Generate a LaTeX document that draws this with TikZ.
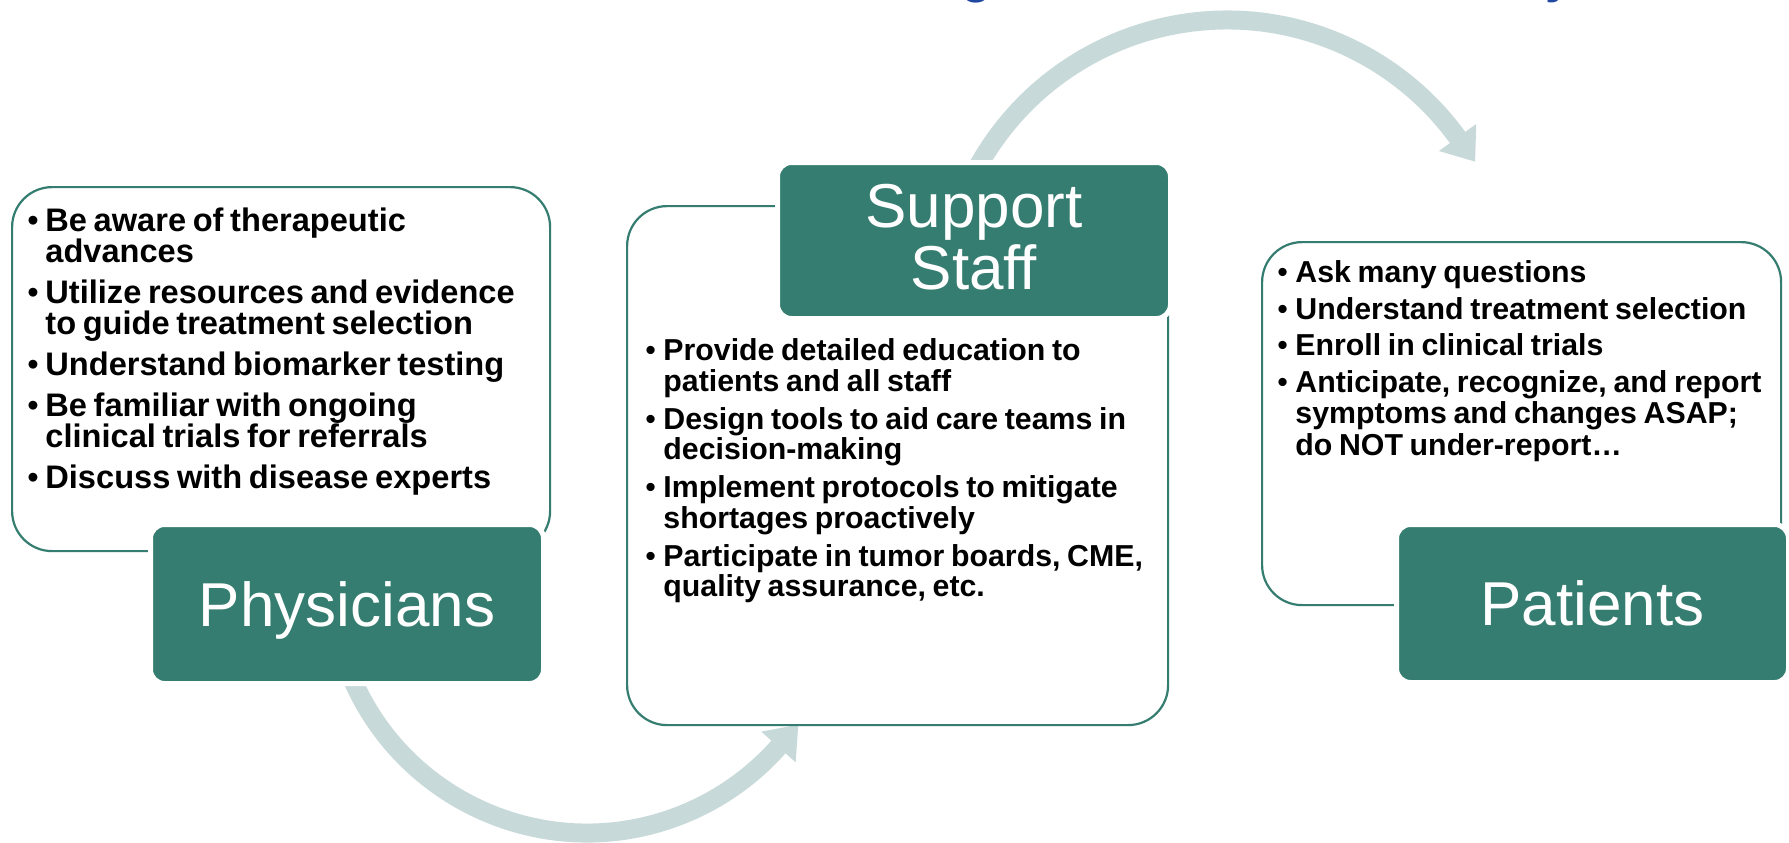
\documentclass[tikz,border=0pt]{standalone}
\usepackage{fontspec}
\setmainfont{Liberation Sans}
\usetikzlibrary{arrows.meta}
\definecolor{boxgreen}{RGB}{53,125,112}
\definecolor{arrowgrey}{RGB}{200,217,217}
\definecolor{titleblue}{RGB}{33,72,160}
\newcommand\bitem[1]{\par\noindent\hangindent=9pt\hangafter=1\hbox to 9pt{\mdseries\textbullet\hfil}#1\par}
\newcommand\rolefont{\fontsize{31pt}{31pt}\selectfont}
\begin{document}
\begin{tikzpicture}[x=0.5pt,y=-0.5pt,
  contentbox/.style={draw=boxgreen, line width=1.1pt, fill=white, rounded corners=20pt, inner sep=0pt, anchor=north west},
  rolebox/.style={fill=boxgreen, draw=white, line width=2.5pt, rounded corners=7pt, inner sep=0pt, text=white, font=\rolefont},
  cycarrow/.style={draw=arrowgrey, line width=9.5pt, -{Triangle[width=22pt,length=15pt]}},
  listtext/.style={anchor=north west, inner sep=0pt, text width=262pt}]
\useasboundingbox[fill=white] (0,0) rectangle (1789,842);
% cycle arrows
\coordinate (c1) at (587,577);
\coordinate (c2) at (1227,305);
\path (c1) ++(157.2:256) coordinate (a1s);
\path (c2) ++(-151.7:285) coordinate (a2s);
\draw[cycarrow] (a1s) arc[start angle=157.2, end angle=41.6, radius=256] -- ++(20,-22.4) coordinate (a1t);
\draw[cycarrow] (a2s) arc[start angle=-151.7, end angle=-36, radius=285] -- ++(17.6,24.3) coordinate (a2t);
% content boxes
\node[contentbox, minimum width=269pt, minimum height=182pt] (physbox) at (11,186) {};
\node[contentbox, minimum width=270.5pt, minimum height=259.5pt] (suppbox) at (626,205) {};
\node[contentbox, minimum width=259.5pt, minimum height=181.5pt] (patbox) at (1261,241) {};
% lists
\node[listtext] (physlist) at (27,190) {\raggedright\fontsize{16.3pt}{15.75pt}\selectfont\bfseries\setlength\parskip{4.6pt}%
\bitem{\rule{0pt}{12.5pt}Be aware of therapeutic\newline advances}%
\bitem{Utilize resources and evidence\newline to guide treatment selection}%
\bitem{Understand biomarker testing}%
\bitem{Be familiar with ongoing\newline clinical trials for referrals}%
\bitem{Discuss with disease experts}};
\node[listtext] (supplist) at (645,322) {\raggedright\fontsize{15.15pt}{15.25pt}\selectfont\bfseries\setlength\parskip{3.8pt}%
\bitem{\rule{0pt}{12pt}Provide detailed education to\newline patients and all staff}%
\bitem{Design tools to aid care teams in\newline decision-making}%
\bitem{Implement protocols to mitigate\newline shortages proactively}%
\bitem{Participate in tumor boards, CME,\newline quality assurance, etc.}};
\node[listtext, text width=252pt] (patlist) at (1277,245) {\raggedright\fontsize{15.15pt}{15.6pt}\selectfont\bfseries\setlength\parskip{2.8pt}%
\bitem{\rule{0pt}{12pt}Ask many questions}%
\bitem{Understand treatment selection}%
\bitem{Enroll in clinical trials}%
\bitem{Anticipate, recognize, and report\newline symptoms and changes ASAP;\newline do NOT under-report…}};
% role boxes
\node[rolebox, minimum width=196.5pt, minimum height=79.5pt, text height=22.2pt, text depth=0pt] (phys) at (347,604) {Physicians};
\node[rolebox, minimum width=196.5pt, minimum height=78pt, align=center] (supp) at (974,240.5) {Support\\Staff\rule[-4pt]{0pt}{0pt}};
\node[rolebox, minimum width=196pt, minimum height=79pt, text height=22.2pt, text depth=0pt] (pat) at (1592.5,603.5) {Patients};
% clipped title descenders
\begin{scope}
\clip (0,0) rectangle (1789,842);
\node[anchor=base west, inner sep=0pt, text=titleblue, font=\fontsize{25pt}{25pt}\selectfont\bfseries] (tg) at (961,-8) {g};
\node[anchor=base west, inner sep=0pt, text=titleblue, font=\fontsize{25pt}{25pt}\selectfont\bfseries] (ty) at (1545,-8) {y};
\end{scope}
\end{tikzpicture}
\end{document}
